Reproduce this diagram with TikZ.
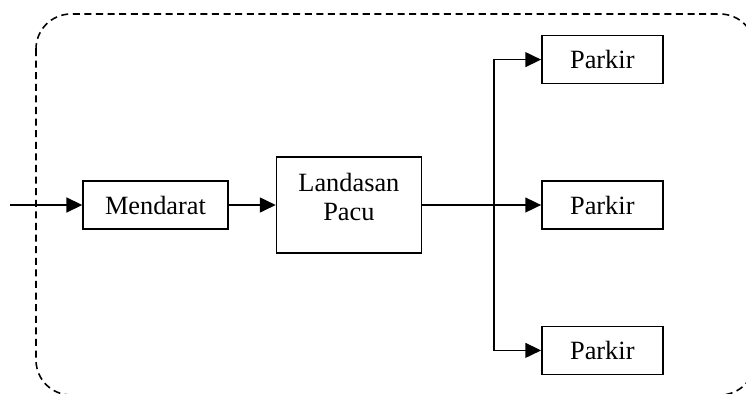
\documentclass[tikz,border=0pt]{standalone}
\usepackage{fontspec}
\setmainfont{Liberation Serif}
\usetikzlibrary{arrows.meta,positioning}

\begin{document}
\begin{tikzpicture}
  \tikzset{
    >={Triangle[length=9pt,width=8.5pt]},
    node distance=0.94cm,
    box/.style={draw,line width=0.8pt,minimum width=2.9cm,minimum height=0.96cm,
      inner sep=0pt,font=\fontsize{15}{16.5}\selectfont},
    park/.style={box,minimum width=2.42cm},
    edge/.style={->,line width=0.8pt},
    frame/.style={line width=0.9pt,dash pattern=on 4pt off 2.6pt,rounded corners=0.7cm},
  }
  \useasboundingbox (0,0) rectangle (14.92,-7.88);
  \clip (0,0) rectangle (14.92,-7.88);

  % outer dashed boundary
  \draw[frame] (0.72,-0.28) rectangle (15.1,-7.9);

  \node [box]  (md) at (3.11,-4.1)   {Mendarat};
  \node [box,minimum height=1.92cm,
         label={[align=center,yshift=0.16cm,font=\fontsize{15}{16.5}\selectfont]center:Landasan\\Pacu}]
               (lp)  [right=of md]   {};
  \node [park] (pk2) [right=2.38cm of lp] {Parkir};
  \node [park] (pk1) [above=1.92cm of pk2] {Parkir};
  \node [park] (pk3) [below=1.92cm of pk2] {Parkir};

  \coordinate (src)   at ([xshift=-1.44cm]md.west);
  \coordinate (split) at ([xshift=-0.94cm]pk2.west);

  \draw[edge] (src) -- (md);
  \draw[edge] (md) -- (lp);
  \draw[line width=0.8pt] (lp) -- (split);
  \draw[edge] (split) -- (pk2);
  \draw[edge] (split) |- (pk1);
  \draw[edge] (split) |- (pk3);
\end{tikzpicture}
\end{document}
